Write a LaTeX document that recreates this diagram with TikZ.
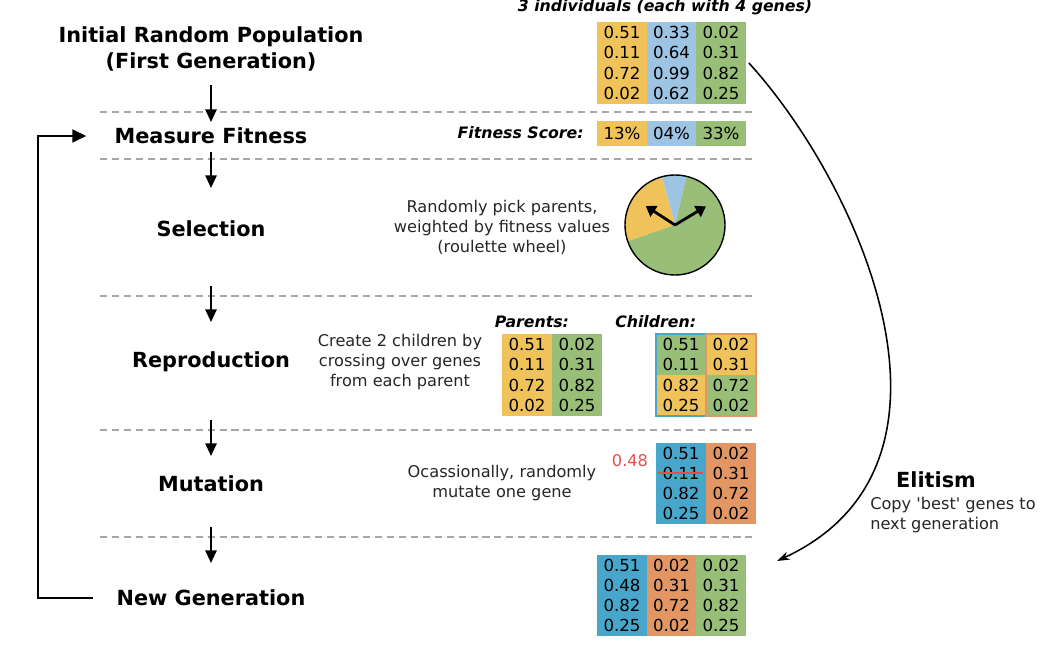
\documentclass[tikz,border=0pt]{standalone}
\usepackage{fontspec}
\setmainfont{DejaVu Sans}
\usepackage{xcolor}
\usepackage{tikz}
\usetikzlibrary{arrows.meta}

\definecolor{yel}{RGB}{240,194,90}
\definecolor{lblue}{RGB}{158,196,228}
\definecolor{grn}{RGB}{152,190,120}
\definecolor{dblue}{RGB}{72,166,202}
\definecolor{orng}{RGB}{226,150,100}
\definecolor{mutred}{RGB}{228,78,78}

\newcommand\lblfont{\fontsize{14.8}{18.4}\selectfont\bfseries}
\newcommand\txtfont{\fontsize{11.5}{14.2}\selectfont}
\newcommand\genefont{\fontsize{11.8}{14.4}\selectfont}
\newcommand\capfont{\fontsize{11.2}{14}\selectfont\bfseries\itshape}

\tikzset{
  stage/.style={inner sep=0pt, align=center, font=\lblfont},
  note/.style={inner sep=0pt, align=center, font=\txtfont, text=black!85},
  head/.style={inner sep=0pt, font=\capfont},
  col/.style={minimum width=1.24cm, minimum height=2.03cm, inner sep=0pt, align=center, font=\genefont},
  half/.style={minimum width=1.25cm, minimum height=1.015cm, inner sep=0pt, align=center, font=\genefont},
  score/.style={minimum width=1.24cm, minimum height=0.63cm, inner sep=0pt, font=\genefont},
  divider/.style={gray!70, line width=1.1pt, dash pattern=on 5pt off 3.5pt},
  flow/.style={line width=1.5pt, -{Triangle[length=9pt,width=8pt]}},
  back/.style={line width=2pt, -{Triangle[length=10pt,width=9pt]}},
  spin/.style={line width=2pt, -{Triangle[length=7pt,width=9pt]}},
  elite/.style={line width=1.1pt, -{Stealth[length=9pt,width=6pt]}},
}

\begin{document}
\begin{tikzpicture}[x=0.025cm, y=-0.025cm]
\useasboundingbox (0,0) rectangle (1042,648);

\node (init) at (211,49) [stage] {Initial Random Population\\(First Generation)};
\node (fit) at (211,136) [stage] {Measure Fitness};
\node (sel) at (211,229) [stage] {Selection};
\node (rep) at (211,362) [stage] {Reproduction};
\node (mut) at (211,484) [stage] {Mutation};
\node (ng) at (211,598) [stage] {New Generation};

\draw[divider] (100,112) -- (757,112);
\draw[divider] (100,159) -- (757,159);
\draw[divider] (100,296) -- (757,296);
\draw[divider] (100,430) -- (757,430);
\draw[divider] (100,537) -- (757,537);

\coordinate (a1) at (211,85);
\coordinate (b1) at (211,122);
\coordinate (a2) at (211,152);
\coordinate (b2) at (211,188);
\coordinate (a3) at (211,286);
\coordinate (b3) at (211,322);
\coordinate (a4) at (211,420);
\coordinate (b4) at (211,456);
\coordinate (a5) at (211,527);
\coordinate (b5) at (211,563);
\draw[flow] (a1) -- (b1);
\draw[flow] (a2) -- (b2);
\draw[flow] (a3) -- (b3);
\draw[flow] (a4) -- (b4);
\draw[flow] (a5) -- (b5);

\coordinate (corner) at (38,0);
\draw[back, shorten <=0.58cm, shorten >=0.7cm] (ng.west) -- (ng.west -| corner) |- (fit.west);

\node (title) at (665,7) [head] {3 individuals (each with 4 genes)};
\node (t1) at (622,63) [col, fill=yel] {0.51\\0.11\\0.72\\0.02};
\node (t2) at (671.5,63) [col, fill=lblue] {0.33\\0.64\\0.99\\0.62};
\node (t3) at (721,63) [col, fill=grn] {0.02\\0.31\\0.82\\0.25};

\node (fs) at (584,133) [head, anchor=east] {Fitness Score:};
\node (s1) at (622,133.5) [score, fill=yel] {13\%};
\node (s2) at (671.5,133.5) [score, fill=lblue] {04\%};
\node (s3) at (721,133.5) [score, fill=grn] {33\%};

\node (pick) at (502,227) [note] {Randomly pick parents,\\weighted by fitness values\\(roulette wheel)};
\coordinate (hub) at (675,225);
\fill[lblue] (hub) -- ++(76.6:1.25cm) arc[start angle=76.6, end angle=105.4, radius=1.25cm] -- cycle;
\fill[yel] (hub) -- ++(105.4:1.25cm) arc[start angle=105.4, end angle=199, radius=1.25cm] -- cycle;
\fill[grn] (hub) -- ++(199:1.25cm) arc[start angle=199, end angle=436.6, radius=1.25cm] -- cycle;
\node (wheel) at (hub) [circle, draw, line width=1pt, minimum size=2.5cm] {};
\draw[spin] (wheel.center) -- +(147:0.87cm);
\draw[spin] (wheel.center) -- +(31:0.9cm);

\node (cross) at (400,362) [note] {Create 2 children by\\crossing over genes\\from each parent};
\node (par) at (532,322) [head] {Parents:};
\node (p1) at (527,375) [col, fill=yel] {0.51\\0.11\\0.72\\0.02};
\node (p2) at (577,375) [col, fill=grn] {0.02\\0.31\\0.82\\0.25};
\node (chi) at (615,322) [head, anchor=west] {Children:};
\node (c1a) at (681,354.5) [half, fill=grn] {0.51\\0.11};
\node (c1b) at (681,395.5) [half, fill=yel] {0.82\\0.25};
\node (c2a) at (731,354.5) [half, fill=yel] {0.02\\0.31};
\node (c2b) at (731,395.5) [half, fill=grn] {0.72\\0.02};
\draw[dblue, line width=1.5pt] (c1a.north west) rectangle (c1b.south east);
\draw[orng, line width=1.5pt] (c2a.north west) rectangle (c2b.south east);

\node (rare) at (502,483) [note] {Ocassionally, randomly\\mutate one gene};
\node (m1) at (681,483.5) [col, fill=dblue] {0.51\\0.11\\0.82\\0.25};
\node (m2) at (731,483.5) [col, fill=orng] {0.02\\0.31\\0.72\\0.02};
\node (new) at (630,461) [note, text=mutred] {0.48};
\draw[mutred, line width=2pt] (658,473) -- (703,473);

\node (n1) at (622,595.5) [col, fill=dblue] {0.51\\0.48\\0.82\\0.25};
\node (n2) at (671.5,595.5) [col, fill=orng] {0.02\\0.31\\0.72\\0.02};
\node (n3) at (721,595.5) [col, fill=grn] {0.02\\0.31\\0.82\\0.25};

\coordinate (drop) at (777,561);
\draw[elite] ([xshift=2pt]t3.east) .. controls (860,185) and (985,465) .. (drop);
\node (eli) at (936,480) [stage] {Elitism};
\node (copy) at (870,515) [note, anchor=west, align=left] {Copy \textquotesingle best\textquotesingle\ genes to\\next generation};
\end{tikzpicture}
\end{document}
